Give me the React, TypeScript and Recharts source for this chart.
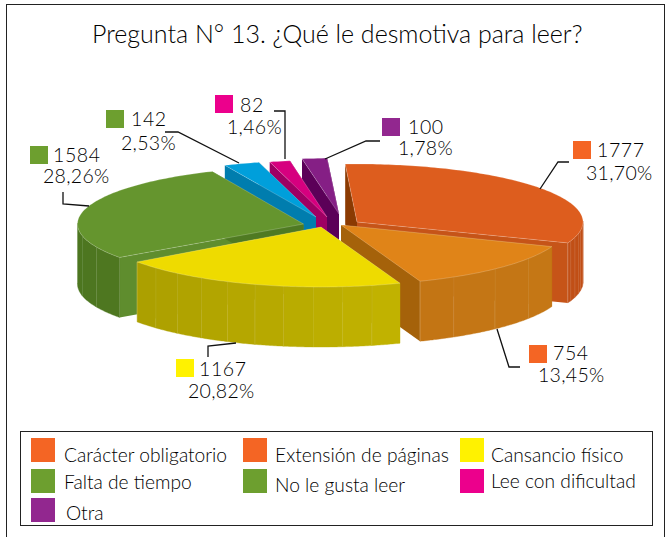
import React from 'react';
import { PieChart, Pie, Legend } from 'recharts';

const TITLE = 'Pregunta N° 13. ¿Qué le desmotiva para leer?';
const CATEGORIES = ['Carácter obligatorio', 'Extensión de páginas', 'Cansancio físico', 'Falta de tiempo', 'No le gusta leer', 'Lee con dificultad', 'Otra'];
const VALUES = [1777, 754, 1167, 1584, 142, 82, 100];
const PERCENTS = ['31,70%', '13,45%', '20,82%', '28,26%', '2,53%', '1,46%', '1,78%'];
const rows = CATEGORIES.map((name, i) => ({ name, value: VALUES[i], percentText: PERCENTS[i] }));

const FONT = 'Lato, "Open Sans", sans-serif';
const INK = '#000000';
const RX = 226;
const DEPTH = 60;
const PIE_CX = 330;
const PIE_CY = 222;
const SWATCHES = ['#F46524', '#F46524', '#FFF200', '#6D9F2F', '#6D9F2F', '#EC008C', '#92278F'];

// drawing order, back to front
const PAINT_ORDER = [6, 5, 4, 3, 0, 1, 2];

type SliceLook = { dx: number; dy: number; ry: number; top: string; startWall: string; endWall: string; rimA: string; rimB: string; seam: number };
const LOOKS: SliceLook[] = [
  { dx: 27, dy: 0, ry: 58, top: '#DD5D1E', startWall: '#8B3A02', endWall: '#C65418', rimA: '#C85518', rimB: '#C14F16', seam: 3.5 },
  { dx: 11, dy: 3, ry: 60, top: '#E08418', startWall: '#C07214', endWall: '#A5620A', rimA: '#BE7013', rimB: '#C57715', seam: 13 },
  { dx: -9, dy: 5, ry: 60, top: '#EEDB00', startWall: '#B5A600', endWall: '#B5A600', rimA: '#A89C00', rimB: '#CFBF00', seam: 7.5 },
  { dx: -26.5, dy: 2, ry: 57.5, top: '#65952E', startWall: '#5F8D2E', endWall: '#4F7A22', rimA: '#4D7620', rimB: '#588526', seam: 12 },
  { dx: -14, dy: -5, ry: 56.5, top: '#009FDB', startWall: '#007DAE', endWall: '#007DAE', rimA: '#007DAE', rimB: '#007DAE', seam: 30 },
  { dx: -3, dy: -5, ry: 57, top: '#D6007F', startWall: '#9E0063', endWall: '#9E0063', rimA: '#9E0063', rimB: '#9E0063', seam: 30 },
  { dx: 9, dy: -8, ry: 56, top: '#851F85', startWall: '#5B0058', endWall: '#5B0058', rimA: '#5B0058', rimB: '#5B0058', seam: 30 },
];

type LabelLook = { swatch: [number, number]; numberAt: [number, number]; pctAt: [number, number]; leader: [number, number][] };
const LABELS: LabelLook[] = [
  { swatch: [573, 141], numberAt: [597, 157], pctAt: [586, 180], leader: [[540, 189], [558, 162], [569, 162]] },
  { swatch: [529, 345], numberAt: [553, 360], pctAt: [538, 382], leader: [[497, 329], [509, 367], [520, 367]] },
  { swatch: [176, 359], numberAt: [199, 376], pctAt: [188, 398], leader: [[236, 343], [208, 346], [208, 357]] },
  { swatch: [30, 146], numberAt: [53, 162], pctAt: [43, 183], leader: [[89, 206], [63, 204], [63, 192]] },
  { swatch: [106, 110], numberAt: [131, 126], pctAt: [121, 150], leader: [[165, 132], [178, 132], [239, 163]] },
  { swatch: [215, 95], numberAt: [240, 112], pctAt: [227, 134], leader: [[274, 111], [285, 111], [285, 159]] },
  { swatch: [382, 118], numberAt: [408, 134], pctAt: [398, 155], leader: [[380, 141], [366, 141], [325, 159]] },
];

const LEGEND_COLUMNS = [
  { swatch: 11, text: 44 },
  { swatch: 223, text: 255 },
  { swatch: 440, text: 471 },
];
const LEGEND_ROWS = [
  { swatch: 7, text: 22 },
  { swatch: 38, text: 49 },
  { swatch: 67, text: 80 },
];
const LEGEND_CELLS: [number, number, number, number][] = [
  [0, 0, 0, 0], [1, 0, 0, 0], [2, 0, 0, 0],
  [0, 1, 0, 0], [1, 1, 0, 3], [2, 1, 0, -1],
  [0, 2, 2, 0],
];

const rad = (a: number) => (a * Math.PI) / 180;
const hex = (c: string) => [1, 3, 5].map((i) => parseInt(c.slice(i, i + 2), 16));
const mix = (a: string, b: string, t: number) => {
  const A = hex(a);
  const B = hex(b);
  return `rgb(${A.map((v, i) => Math.round(v + (B[i] - v) * t)).join(',')})`;
};
const pts = (list: number[][]) => list.map((p) => p.map((v) => v.toFixed(1)).join(',')).join(' ');

function wedge(index: number, props: any) {
  const look = LOOKS[index];
  const { cx, cy, startAngle, endAngle, outerRadius } = props;
  const ox = cx + look.dx;
  const oy = cy + look.dy;
  const at = (a: number, drop = 0) => [ox + outerRadius * Math.cos(rad(a)), oy - look.ry * Math.sin(rad(a)) + drop];
  const hi = Math.max(startAngle, endAngle);
  const lo = Math.min(startAngle, endAngle);

  const arc: number[][] = [];
  for (let a = hi; a > lo; a -= 1) arc.push(at(a));
  arc.push(at(lo));

  const facets: React.ReactNode[] = [];
  let n = 0;
  for (let a = hi; a > lo + 1e-6; a -= look.seam) {
    const b = Math.max(a - look.seam, lo);
    // only the part of the rim that faces the viewer
    const front: number[] = [];
    for (let t = a; t > b; t -= 0.5) if (Math.sin(rad(t)) <= 0.02) front.push(t);
    if (Math.sin(rad(b)) <= 0.02) front.push(b);
    if (front.length > 1) {
      const upper = front.map((t) => at(t));
      const lower = front.map((t) => at(t, DEPTH)).reverse();
      const mid = front[Math.floor(front.length / 2)];
      const fill = mix(look.rimA, look.rimB, (Math.cos(rad(mid)) + 1) / 2);
      facets.push(<polygon key={n++} points={pts([...upper, ...lower])} fill={fill} stroke={fill} strokeWidth={0.4} />);
      const seamTop = at(front[front.length - 1]);
      facets.push(
        <line key={n++} x1={seamTop[0]} y1={seamTop[1]} x2={seamTop[0]} y2={seamTop[1] + DEPTH} stroke="#ffffff" strokeOpacity={0.28} strokeWidth={0.8} />,
      );
    }
  }

  const A = [ox, oy];
  const S = at(hi);
  const E = at(lo);
  const wall = (P: number[]) => [A, P, [P[0], P[1] + DEPTH], [A[0], A[1] + DEPTH]];

  return (
    <g>
      <polygon points={pts(wall(S))} fill={look.startWall} />
      <polygon points={pts(wall(E))} fill={look.endWall} />
      {facets}
      <polygon points={pts([A, ...arc])} fill={look.top} stroke="#ffffff" strokeOpacity={0.3} strokeWidth={0.7} />
    </g>
  );
}

const sliceShape = (index: number) => (props: any) =>
  props.name === CATEGORIES[index] ? wedge(index, props) : <g />;

const renderLabel = (props: any) => {
  const i = CATEGORIES.indexOf(props.name);
  const L = LABELS[i];
  return (
    <g key={props.name} fontFamily={FONT} fontWeight={300} fill={INK} fontSize={19.5}>
      <rect x={L.swatch[0]} y={L.swatch[1]} width={18} height={18} fill={SWATCHES[i]} />
      <polyline points={pts(L.leader)} fill="none" stroke="#111" strokeWidth={1.3} />
      <text x={L.numberAt[0]} y={L.numberAt[1]} letterSpacing={0.6}>{props.value}</text>
      <text x={L.pctAt[0]} y={L.pctAt[1]} letterSpacing={0.3}>{PERCENTS[i]}</text>
    </g>
  );
};

const LegendBox = () => (
  <div style={{ position: 'relative', width: 633, height: 95, border: '1.5px solid #222', boxSizing: 'border-box', background: '#fff' }}>
    {LEGEND_CELLS.map(([c, r, tx, ty], i) => (
      <React.Fragment key={CATEGORIES[i]}>
        <div style={{ position: 'absolute', left: LEGEND_COLUMNS[c].swatch - 1, top: LEGEND_ROWS[r].swatch - 1, width: 24, height: 24, background: SWATCHES[i] }} />
        <div
          style={{
            position: 'absolute',
            left: LEGEND_COLUMNS[c].text + tx - 1,
            top: LEGEND_ROWS[r].text + ty - 11,
            font: `300 19.2px ${FONT}`,
            color: INK,
            whiteSpace: 'nowrap',
            lineHeight: '24px',
          }}
        >
          {CATEGORIES[i]}
        </div>
      </React.Fragment>
    ))}
  </div>
);

export default function App() {
  return (
    <div style={{ position: 'absolute', left: 0, top: 0, width: 668, height: 537, background: '#fff', overflow: 'hidden' }}>
      <div style={{ position: 'absolute', left: 6, top: 4, width: 659, height: 560, border: '1.5px solid #222', boxSizing: 'border-box' }} />
      <div style={{ position: 'absolute', left: 92, top: 17, font: `300 25px ${FONT}`, color: INK, whiteSpace: 'nowrap', lineHeight: '32px' }}>{TITLE}</div>
      <PieChart width={668} height={537} margin={{ top: 0, right: 0, bottom: 0, left: 0 }} style={{ position: 'absolute', left: 0, top: 0 }}>
        {PAINT_ORDER.map((index, layer) => (
          <Pie
            key={index}
            data={rows}
            dataKey="value"
            nameKey="name"
            cx={PIE_CX}
            cy={PIE_CY}
            innerRadius={0}
            outerRadius={RX}
            startAngle={93}
            endAngle={-267}
            stroke="none"
            isAnimationActive={false}
            shape={sliceShape(index)}
            label={layer === PAINT_ORDER.length - 1 ? renderLabel : false}
            labelLine={false}
          />
        ))}
        <Legend content={<LegendBox />} wrapperStyle={{ position: 'absolute', left: 20, top: 431, width: 633, height: 95, bottom: 'auto' }} />
      </PieChart>
    </div>
  );
}
